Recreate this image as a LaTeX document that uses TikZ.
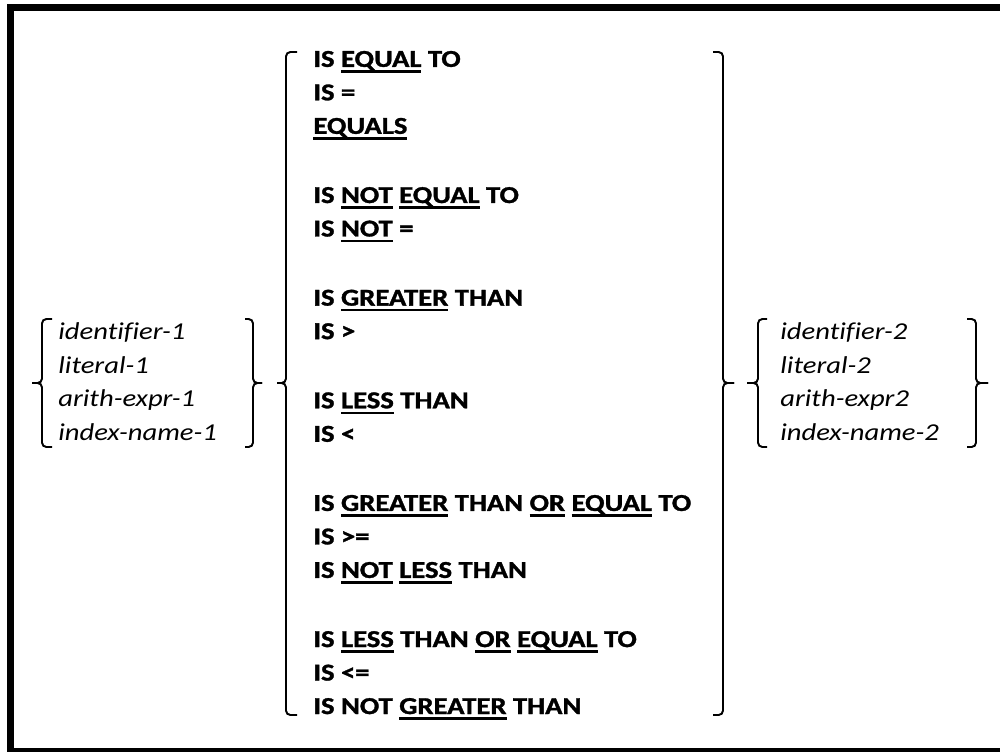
\documentclass[tikz,border=0pt]{standalone}
\usepackage{fontspec}
\setmainfont{Carlito}[Ligatures=CommonOff, BoldFeatures={FakeBold=1.2}]
\newlength\ulbreite
\newcommand\uln[1]{\settowidth\ulbreite{#1}\rlap{\rule[-3.3pt]{\ulbreite}{1.4pt}}#1}

\begin{document}
\begin{tikzpicture}[x=0.02cm, y=-0.02cm,
        klammer/.style={line width=1.1pt, rounded corners=2.5pt},
        liste/.style={anchor=base west, align=left, inner sep=0pt,
            xscale=1.18, transform shape},
        fett/.style={liste, font=\fontsize{13.8}{19.06}\selectfont\bfseries},
        kursiv/.style={liste, font=\fontsize{13.8}{19.06}\selectfont\itshape}
        ]
            \useasboundingbox (0,0) rectangle (1000,751);
            \clip (0,0) rectangle (1000,751);

            % Rahmen
            \draw [line width=4pt] (10.5,7.5) rectangle (1010,751.5);

            % Texte (Anker: Grundlinie der letzten Zeile)
            \node [kursiv] (lhs) at (58,440)
                {identifier-1\\ literal-1\\ arith-expr-1\\ index-name-1};
            \node [fett] (ops) at (313,714)
                {IS \uln{EQUAL} TO\\
                 IS =\\
                 \uln{EQUALS}\\[20.3pt]
                 IS \uln{NOT} \uln{EQUAL} TO\\
                 IS \uln{NOT} =\\[20.3pt]
                 IS \uln{GREATER} THAN\\
                 IS >\\[20.3pt]
                 IS \uln{LESS} THAN\\
                 IS <\\[20.3pt]
                 IS \uln{GREATER} THAN \uln{OR} \uln{EQUAL} TO\\
                 IS >=\\
                 IS \uln{NOT} \uln{LESS} THAN\\[20.3pt]
                 IS \uln{LESS} THAN \uln{OR} \uln{EQUAL} TO\\
                 IS <=\\
                 IS NOT \uln{GREATER} THAN};
            \node [kursiv] (rhs) at (780,440)
                {identifier-2\\ literal-2\\ arith-expr2\\ index-name-2};

            % Klammern links
            \draw [klammer] (52,319) -- (42,319) -- (42,383) -- (32,383);
            \draw [klammer] (32,383) -- (42,383) -- (42,447) -- (52,447);
            \draw [klammer] (245,319) -- (253,319) -- (253,383) -- (262,383);
            \draw [klammer] (262,383) -- (253,383) -- (253,447) -- (245,447);

            % Klammern Mitte
            \draw [klammer] (297,52) -- (286,52) -- (286,383) -- (277,383);
            \draw [klammer] (277,383) -- (286,383) -- (286,715) -- (297,715);
            \draw [klammer] (713,52) -- (723,52) -- (723,383) -- (734,383);
            \draw [klammer] (734,383) -- (723,383) -- (723,715) -- (713,715);

            % Klammern rechts
            \draw [klammer] (767,319) -- (758,319) -- (758,383) -- (747,383);
            \draw [klammer] (747,383) -- (758,383) -- (758,447) -- (767,447);
            \draw [klammer] (967,319) -- (976,319) -- (976,383) -- (988,383);
            \draw [klammer] (988,383) -- (976,383) -- (976,447) -- (967,447);

        \end{tikzpicture}
\end{document}
